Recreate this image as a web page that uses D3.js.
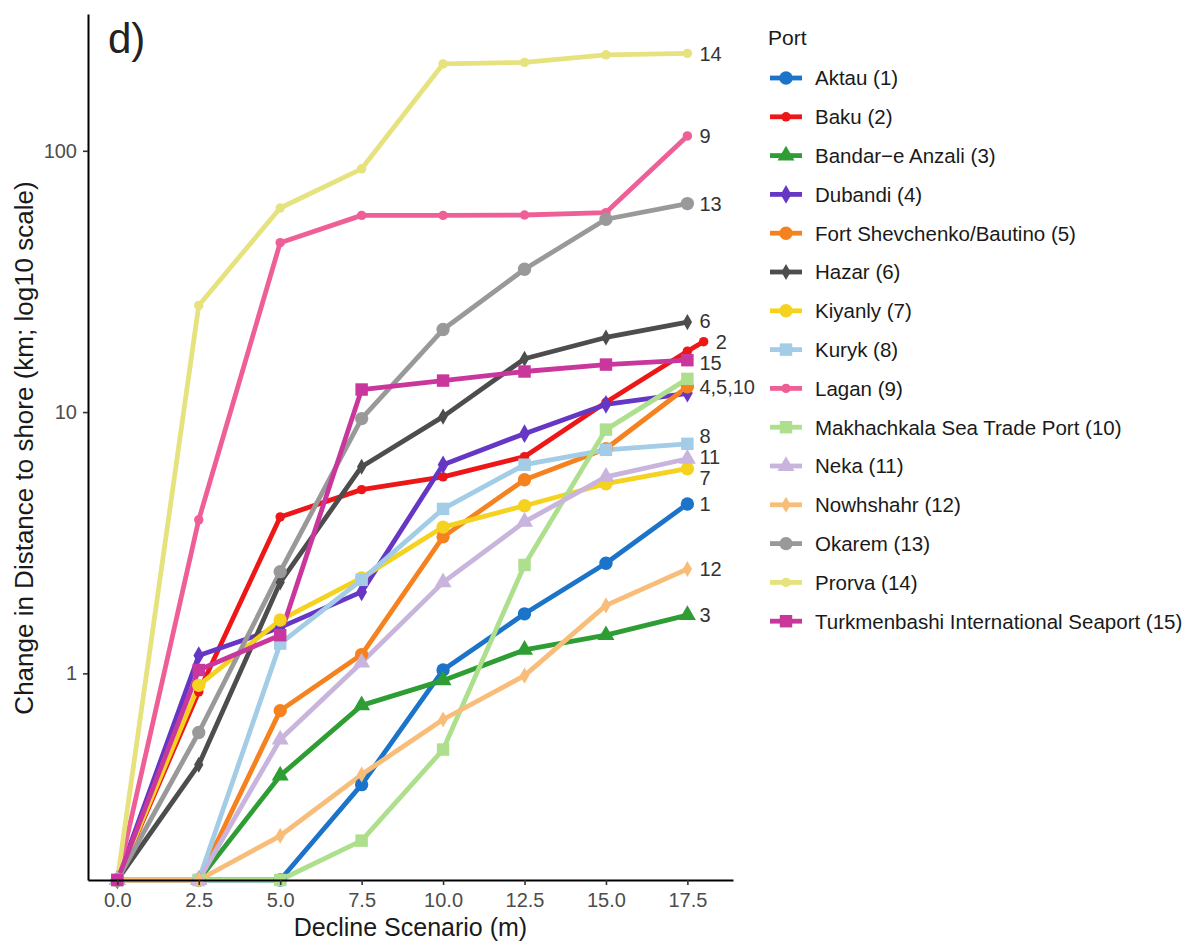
<!DOCTYPE html>
<html>
<head>
<meta charset="utf-8">
<script src="https://cdn.jsdelivr.net/npm/d3@7"></script>
<style>
  body { margin: 0; background: #ffffff; }
  text { font-family: "Liberation Sans", Arial, Helvetica, sans-serif; }
</style>
</head>
<body>
<svg id="chart" width="1195" height="945"></svg>
<script>
// Sea-level decline scenarios (m)
const scenarios = [0, 2.5, 5, 7.5, 10, 12.5, 15, 17.5];
const bakuScenarios = [0, 2.5, 5, 7.5, 10, 12.5, 15, 17.5, 18];

const portNames = [
  "Aktau (1)", "Baku (2)", "Bandar\u2212e Anzali (3)", "Dubandi (4)",
  "Fort Shevchenko/Bautino (5)", "Hazar (6)", "Kiyanly (7)", "Kuryk (8)",
  "Lagan (9)", "Makhachkala Sea Trade Port (10)", "Neka (11)", "Nowhshahr (12)",
  "Okarem (13)", "Prorva (14)", "Turkmenbashi International Seaport (15)"
];
const portIds = [1, 2, 3, 4, 5, 6, 7, 8, 9, 10, 11, 12, 13, 14, 15];

// Change in distance to shore (km); 0 means no change
const aktau        = [0, 0, 0, 0.375, 1.03, 1.69, 2.64, 4.45];
const baku         = [0, 0.85, 3.97, 5.05, 5.65, 6.75, 10.9, 17.1, 18.6];
const bandarAnzali = [0, 0, 0.406, 0.754, 0.94, 1.23, 1.40, 1.67];
const dubandi      = [0, 1.17, 1.50, 2.05, 6.29, 8.27, 10.7, 11.8];
const fortShev     = [0, 0, 0.72, 1.18, 3.33, 5.51, 7.24, 12.5];
const hazar        = [0, 0.447, 2.23, 6.18, 9.61, 16.0, 19.3, 22.1];
const kiyanly      = [0, 0.90, 1.60, 2.32, 3.63, 4.38, 5.32, 6.07];
const kuryk        = [0, 0, 1.30, 2.28, 4.26, 6.29, 7.17, 7.56];
const lagan        = [0, 3.87, 44.5, 56.6, 56.6, 56.8, 58.0, 114];
const makhachkala  = [0, 0, 0, 0.229, 0.511, 2.60, 8.57, 13.4];
const neka         = [0, 0, 0.558, 1.10, 2.23, 3.80, 5.65, 6.63];
const nowhshahr    = [0, 0, 0.239, 0.41, 0.666, 0.98, 1.82, 2.51];
const okarem       = [0, 0.594, 2.45, 9.44, 20.7, 35.2, 54.7, 62.8];
const prorva       = [0, 25.6, 60.4, 85.3, 215, 218, 233, 236];
const turkmenbashi = [0, 1.03, 1.40, 12.2, 13.2, 14.3, 15.2, 15.8];

const portValues = [aktau, baku, bandarAnzali, dubandi, fortShev, hazar, kiyanly,
  kuryk, lagan, makhachkala, neka, nowhshahr, okarem, prorva, turkmenbashi];
const portScenarios = portIds.map(id => id === 2 ? bakuScenarios : scenarios);

// End-of-line labels (port numbers)
const endLabelText  = ["1", "2", "3", "4,5,10", "6", "7", "8", "9", "11", "12", "13", "14", "15"];
const endLabelPorts = [[1], [2], [3], [4, 5, 10], [6], [7], [8], [9], [11], [12], [13], [14], [15]];

const xTicks = [0, 2.5, 5, 7.5, 10, 12.5, 15, 17.5];
const yTicks = [1, 10, 100];

// Styling
const portColors = ["#1b74c9", "#ee1717", "#2e9e34", "#6637c4", "#f6821f", "#4d4d4d",
  "#f5d21f", "#a3cce6", "#ef5f97", "#addf8c", "#c8b4dc", "#f9bd7a", "#999999",
  "#e6e27e", "#c9369c"];
const portShapes = ["circle", "dot", "triangle", "diamond", "circle", "sdiamond",
  "circle", "square", "dot", "square", "triangle", "sdiamond", "circle", "dot", "square"];
const shapeDefs = {
  circle:   { type: d3.symbolCircle,   size: 140 },
  dot:      { type: d3.symbolCircle,   size: 70 },
  triangle: { type: d3.symbolTriangle, size: 125 },
  diamond:  { type: d3.symbolDiamond,  size: 100 },
  sdiamond: { type: d3.symbolDiamond,  size: 75 },
  square:   { type: d3.symbolSquare,   size: 155 }
};

const panel = { left: 88, right: 733, top: 14, bottom: 880 };
const svg = d3.select("#chart");

// Scales (ggplot-style 5% expansion)
const allX = portScenarios.flat();
const xMin = d3.min(allX), xMax = d3.max(allX);
const xPad = (xMax - xMin) * 0.05;
const x = d3.scaleLinear().domain([xMin - xPad, xMax + xPad]).range([panel.left, panel.right]);

const positives = portValues.flat().filter(v => v > 0);
const lLo = Math.log10(d3.min(positives)), lHi = Math.log10(d3.max(positives));
const lPad = (lHi - lLo) * 0.05;
const y = d3.scaleLog().domain([10 ** (lLo - lPad), 10 ** (lHi + lPad)])
  .range([panel.bottom, panel.top]);
// zero change sits on the lower panel edge
const yPos = v => v > 0 ? y(v) : panel.bottom;

// Series table
const series = portIds.map((id, i) => ({
  id, name: portNames[i], color: portColors[i], shape: portShapes[i],
  pts: portScenarios[i].map((s, j) => ({ s, v: portValues[i][j] }))
}));

const line = d3.line().x(d => x(d.s)).y(d => yPos(d.v));
const sym = sh => d3.symbol().type(shapeDefs[sh].type).size(shapeDefs[sh].size)();

// Lines
svg.append("g").selectAll("path").data(series).join("path")
  .attr("d", d => line(d.pts))
  .attr("fill", "none")
  .attr("stroke", d => d.color)
  .attr("stroke-width", 4.8)
  .attr("stroke-linejoin", "round");

// Points
const pg = svg.append("g");
series.forEach(sr => {
  pg.selectAll(null).data(sr.pts).join("path")
    .attr("d", sym(sr.shape))
    .attr("transform", d => `translate(${x(d.s)},${yPos(d.v)})`)
    .attr("fill", sr.color);
});

// Axes
const xAxis = d3.axisBottom(x).tickValues(xTicks).tickFormat(d3.format(".1f"))
  .tickSizeInner(5).tickSizeOuter(0).tickPadding(8);
const yAxis = d3.axisLeft(y).tickValues(yTicks).tickFormat(d3.format("d"))
  .tickSizeInner(5).tickSizeOuter(0).tickPadding(6);

function styleAxis(g) {
  g.select(".domain").attr("stroke", "#000").attr("stroke-width", 2);
  g.selectAll(".tick line").attr("stroke", "#333").attr("stroke-width", 1.6);
  g.selectAll(".tick text").attr("fill", "#4d4d4d").style("font-size", "20px")
    .style("font-family", "'Liberation Sans', Arial, sans-serif");
}
svg.append("g").attr("transform", `translate(0,${panel.bottom})`).call(xAxis).call(styleAxis);
svg.append("g").attr("transform", `translate(${panel.left},0)`).call(yAxis).call(styleAxis);

// Axis titles
svg.append("text")
  .attr("x", (panel.left + panel.right) / 2).attr("y", 936)
  .attr("text-anchor", "middle").attr("fill", "#1a1a1a")
  .style("font-size", "25px").text("Decline Scenario (m)");
svg.append("text")
  .attr("transform", `translate(33,${(panel.top + panel.bottom) / 2 + 1}) rotate(-90)`)
  .attr("text-anchor", "middle").attr("fill", "#1a1a1a")
  .style("font-size", "26px").text("Change in Distance to shore (km; log10 scale)");

// Panel tag
svg.append("text").attr("x", 108).attr("y", 53).attr("fill", "#222")
  .style("font-size", "42px").text("d)");

// End labels, spread apart vertically so they do not overlap
const byId = new Map(series.map(s => [s.id, s]));
const labels = endLabelText.map((t, i) => {
  const ends = endLabelPorts[i].map(id => { const p = byId.get(id).pts; return p[p.length - 1]; });
  return {
    text: t,
    x: d3.max(ends, e => x(e.s)) + 12,
    y: d3.mean(ends, e => yPos(e.v))
  };
});
labels.sort((a, b) => a.y - b.y);
const gap = 21;
for (let it = 0; it < 300; it++) {
  let moved = false;
  for (let i = 1; i < labels.length; i++) {
    const d = labels[i].y - labels[i - 1].y;
    if (d < gap - 0.01) {
      const sft = (gap - d) / 2;
      labels[i].y += sft; labels[i - 1].y -= sft; moved = true;
    }
  }
  if (!moved) break;
}
svg.append("g").selectAll("text").data(labels).join("text")
  .attr("x", d => d.x).attr("y", d => d.y).attr("dy", "0.36em")
  .attr("fill", "#333").style("font-size", "20px")
  .text(d => d.text);

// Legend
const lg = svg.append("g");
lg.append("text").attr("x", 768).attr("y", 45).attr("fill", "#1a1a1a")
  .style("font-size", "21px").text("Port");
series.forEach((sr, i) => {
  const ly = 78 + i * 38.8;
  lg.append("line").attr("x1", 770).attr("x2", 802).attr("y1", ly).attr("y2", ly)
    .attr("stroke", sr.color).attr("stroke-width", 4.8);
  lg.append("path").attr("d", sym(sr.shape))
    .attr("transform", `translate(786,${ly})`).attr("fill", sr.color);
  lg.append("text").attr("x", 815).attr("y", ly).attr("dy", "0.36em")
    .attr("fill", "#1a1a1a").style("font-size", "20.5px").text(sr.name);
});
</script>
</body>
</html>
